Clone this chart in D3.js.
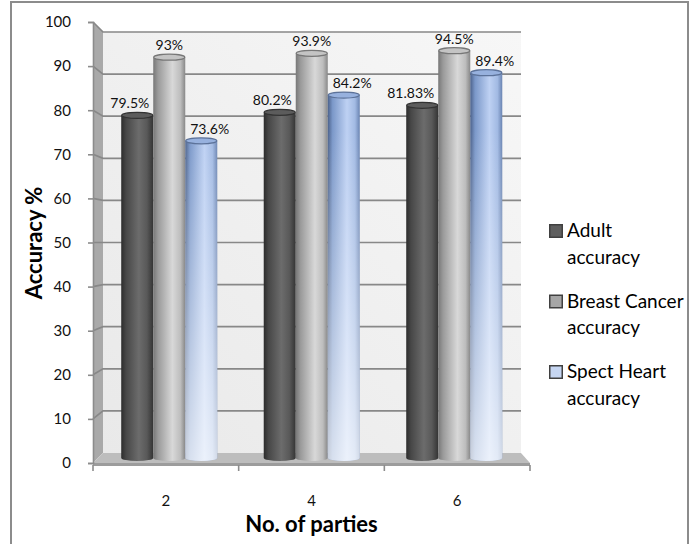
<!DOCTYPE html>
<html>
<head>
<meta charset="utf-8">
<script src="https://cdn.jsdelivr.net/npm/d3@7"></script>
<style>
  html, body { margin: 0; padding: 0; background: #fff; }
  svg { display: block; font-family: Lato, "Open Sans", sans-serif; }
</style>
</head>
<body>
<svg id="chart" width="695" height="544"></svg>
<script>
// Accuracy per number of parties, three datasets
const parties = ["2", "4", "6"];
const adultAccuracy = [79.5, 80.2, 81.83];
const breastCancerAccuracy = [93, 93.9, 94.5];
const spectHeartAccuracy = [73.6, 84.2, 89.4];
const seriesNames = ["Adult accuracy", "Breast Cancer accuracy", "Spect Heart accuracy"];
const legendLines = [["Adult", "accuracy"], ["Breast Cancer", "accuracy"], ["Spect Heart", "accuracy"]];
const yTicks = [0, 10, 20, 30, 40, 50, 60, 70, 80, 90, 100];

const seriesValues = [adultAccuracy, breastCancerAccuracy, spectHeartAccuracy];

const svg = d3.select("#chart");
const defs = svg.append("defs");

// 3D box: front plane (axes), back plane (wall) and middle plane (columns)
const yFront = d3.scaleLinear().domain([0, 100]).range([463, 22]);
const yBack = d3.scaleLinear().domain([0, 100]).range([453, 32]);
const yMid = d3.scaleLinear().domain([0, 100]).range([458, 27]);
const xFront = d3.scaleBand().domain(parties).range([93, 530]);
const xBack = d3.scaleBand().domain(parties).range([103, 521]);
const xMid = d3.scaleBand().domain(parties).range([98, 525.5]);
const groupWidth = xMid.bandwidth() * 0.674;
const xSeries = d3.scaleBand().domain(seriesNames).range([0, groupWidth]);

// Cylinder shading
const shades = [
  { id: "gAdult", stops: [[0, "#2c2c2c"], [0.15, "#474747"], [0.55, "#6c6c6c"], [0.8, "#595959"], [1, "#343434"]], cap: "#5c5c5c", rim: "#333333", swatch: "#5f5f5f" },
  { id: "gBreast", stops: [[0, "#777777"], [0.15, "#9a9a9a"], [0.6, "#d8d8d8"], [0.85, "#bdbdbd"], [1, "#888888"]], cap: "#c4c4c4", rim: "#777777", swatch: "#a6a6a6" },
  { id: "gSpect", stops: [[0, "#4c628b"], [0.15, "#7b98c9"], [0.6, "#bed1f3"], [0.85, "#a2bae3"], [1, "#6a84b2"]], cap: "#97b1de", rim: "#5c7299", swatch: "#c6d6f2" }
];
shades.forEach(s => {
  const g = defs.append("linearGradient").attr("id", s.id)
    .attr("x1", "0").attr("x2", "1").attr("y1", "0").attr("y2", "0");
  s.stops.forEach(([o, c]) => g.append("stop").attr("offset", o).attr("stop-color", c));
});
const fade = defs.append("linearGradient").attr("id", "blueFade")
  .attr("gradientUnits", "userSpaceOnUse")
  .attr("x1", 0).attr("x2", 0).attr("y1", 130).attr("y2", 460);
fade.append("stop").attr("offset", 0).attr("stop-color", "#fff").attr("stop-opacity", 0);
fade.append("stop").attr("offset", 1).attr("stop-color", "#fff").attr("stop-opacity", 0.7);

const wallGrad = defs.append("linearGradient").attr("id", "wall")
  .attr("x1", "0").attr("x2", "1").attr("y1", "1").attr("y2", "0");
wallGrad.append("stop").attr("offset", 0).attr("stop-color", "#e9e9e9");
wallGrad.append("stop").attr("offset", 1).attr("stop-color", "#f7f7f7");

// Outer frame
svg.append("rect").attr("x", 11).attr("y", 2).attr("width", 677).attr("height", 570)
  .attr("fill", "#fff").attr("stroke", "#8c8c8c").attr("stroke-width", 2);

const x0F = xFront.range()[0], x1F = xFront.range()[1];
const x0B = xBack.range()[0], x1B = xBack.range()[1];

// Back wall
svg.append("rect").attr("x", x0B).attr("y", yBack(100))
  .attr("width", x1B - x0B).attr("height", yBack(0) - yBack(100))
  .attr("fill", "url(#wall)");

// Side wall
svg.append("path")
  .attr("d", `M${x0F},${yFront(100)}L${x0B},${yBack(100)}L${x0B},${yBack(0)}L${x0F},${yFront(0)}Z`)
  .attr("fill", "#a9a9a9");

// Floor
svg.append("path")
  .attr("d", `M${x0F},${yFront(0)}L${x0B},${yBack(0)}L${x1B},${yBack(0)}L${x1F},${yFront(0)}Z`)
  .attr("fill", "#bdbdbd");
svg.append("rect").attr("x", x0F).attr("y", yFront(0)).attr("width", x1F - x0F).attr("height", 3)
  .attr("fill", "#9c9c9c");

// Gridlines on back and side walls
const grid = svg.append("g").attr("stroke", "#888888").attr("stroke-width", 1.7).attr("fill", "none");
yTicks.filter(v => v > 0).forEach(v => {
  grid.append("path").attr("d", `M${x0F},${yFront(v)}L${x0B},${yBack(v)}L${x1B},${yBack(v)}`);
});

// Value axis
const yAxis = svg.append("g").attr("transform", `translate(${x0F},0)`)
  .call(d3.axisLeft(yFront).tickValues(yTicks).tickSize(5).tickPadding(17).tickFormat(d3.format("d")));
yAxis.select(".domain").attr("stroke", "#8c8c8c").attr("stroke-width", 1.6);
yAxis.selectAll(".tick line").attr("stroke", "#8c8c8c").attr("stroke-width", 1.6);
yAxis.selectAll(".tick text").attr("font-size", 15).attr("fill", "#111")
  .attr("font-family", "Lato, sans-serif");

// Category axis ticks along the front edge of the floor
const xAxis = svg.append("g").attr("transform", `translate(0,${yFront(0) + 2})`)
  .call(d3.axisBottom(xFront).tickSize(0).tickPadding(30));
xAxis.select(".domain").remove();
xAxis.selectAll(".tick text").attr("font-size", 15).attr("fill", "#111")
  .attr("font-family", "Lato, sans-serif");
const bounds = parties.map(p => xFront(p)).concat([x1F]);
svg.append("g").selectAll("line").data(bounds).join("line")
  .attr("x1", d => d).attr("x2", d => d)
  .attr("y1", yFront(0) + 2).attr("y2", yFront(0) + 8)
  .attr("stroke", "#8c8c8c").attr("stroke-width", 1.6);

// Columns
const ry = 3;
const bars = svg.append("g");
parties.forEach((p, i) => {
  const gx = xMid(p) + (xMid.bandwidth() - groupWidth) / 2;
  seriesNames.forEach((s, k) => {
    const v = seriesValues[k][i];
    const bx0 = gx + xSeries(s), bw = xSeries.bandwidth(), bx1 = bx0 + bw;
    const yt = yMid(v), yb = yMid(0);
    const body = `M${bx0},${yt}L${bx0},${yb}A${bw / 2},${ry} 0 0 0 ${bx1},${yb}L${bx1},${yt}Z`;
    bars.append("path").attr("d", body).attr("fill", `url(#${shades[k].id})`);
    if (k === 2) bars.append("path").attr("d", body).attr("fill", "url(#blueFade)");
    bars.append("ellipse").attr("cx", bx0 + bw / 2).attr("cy", yt).attr("rx", bw / 2 - 0.5).attr("ry", ry)
      .attr("fill", shades[k].cap).attr("stroke", shades[k].rim).attr("stroke-width", 1.2);

    // value label
    const lbl = bars.append("text").text(`${v}%`)
      .attr("y", yt - 7).attr("font-size", 14).attr("fill", "#111");
    if (k === 0) lbl.attr("x", bx1 - 4).attr("text-anchor", "end");
    else if (k === 1) lbl.attr("x", bx0 + bw / 2).attr("text-anchor", "middle");
    else lbl.attr("x", bx0 + 5).attr("text-anchor", "start");
  });
});

// Axis titles
svg.append("text").text("No. of parties")
  .attr("x", (x0F + x1F) / 2).attr("y", 532).attr("text-anchor", "middle")
  .attr("font-size", 22).attr("font-weight", "bold").attr("fill", "#000");
svg.append("text").text("Accuracy %")
  .attr("transform", `translate(42,243) rotate(-90)`).attr("text-anchor", "middle")
  .attr("font-size", 22).attr("font-weight", "bold").attr("fill", "#000");

// Legend
const legend = svg.append("g").attr("transform", "translate(549,224)");
seriesNames.forEach((s, k) => {
  const g = legend.append("g").attr("transform", `translate(0,${k * 70.5})`);
  g.append("rect").attr("x", 0.75).attr("y", 0.75).attr("width", 12.5).attr("height", 12.5)
    .attr("fill", shades[k].swatch).attr("stroke", "#404040").attr("stroke-width", 1.5);
  legendLines[k].forEach((line, j) => {
    g.append("text").text(line).attr("x", 18).attr("y", 13 + j * 26.5)
      .attr("font-size", 19).attr("fill", "#000");
  });
});
</script>
</body>
</html>
